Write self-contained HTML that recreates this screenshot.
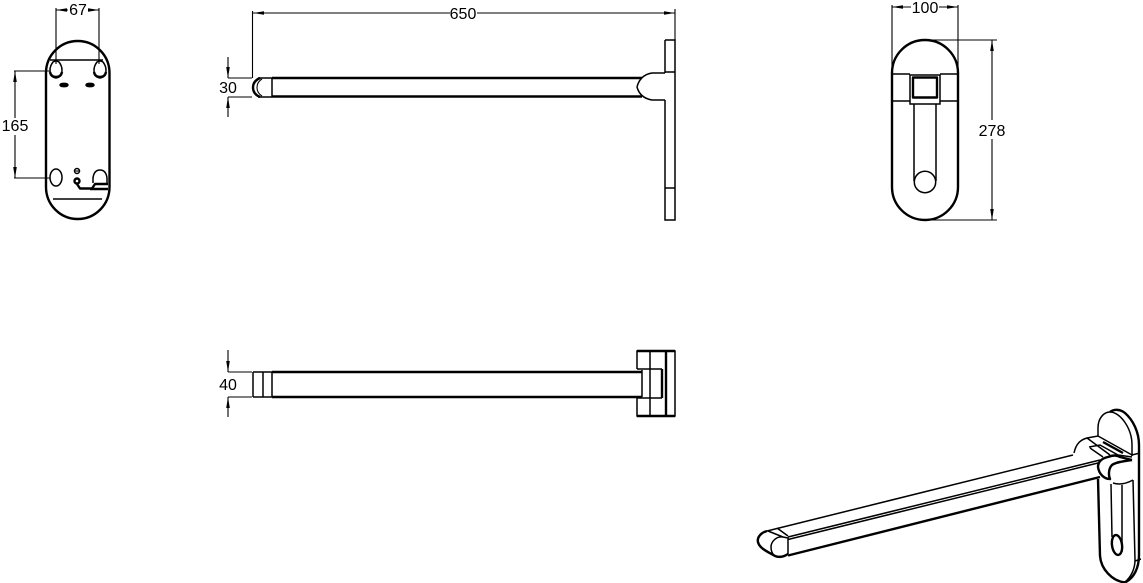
<!DOCTYPE html>
<html>
<head>
<meta charset="utf-8">
<style>
html,body{margin:0;padding:0;background:#fff;width:1143px;height:583px;overflow:hidden}
svg{display:block}
text{font-family:"Liberation Sans",sans-serif;font-size:16px;fill:#000;text-anchor:middle}
.m{fill:none;stroke:#000;stroke-width:1.5}
.t{fill:none;stroke:#000;stroke-width:2.4;stroke-linejoin:round}
.n{fill:none;stroke:#000;stroke-width:1.1}
.a{fill:#000;stroke:none}
</style>
</head>
<body>
<svg width="1143" height="583" viewBox="0 0 1143 583" xmlns="http://www.w3.org/2000/svg">
<!-- Left view -->
<rect class="t" x="46" y="41" width="63.500" height="178" rx="31.700" ry="32"/>
<path class="m" d="M50 60H103M53 199H102"/>
<path class="m" d="M53 62Q50 66 50 70Q50 77 56 78Q62 77 62 70Q62 66 59 62Q56 60 53 62Z"/>
<path class="m" d="M97 62Q94 66 94 70Q94 77 100 78Q106 77 106 70Q106 66 103 62Q100 60 97 62Z"/>
<path class="t" d="M50 72Q51 77 56 77Q61 77 62 72M94 72Q95 77 100 77Q105 77 106 72"/>
<ellipse class="t" cx="64" cy="85" rx="3.500" ry="1.200"/>
<ellipse class="t" cx="90" cy="85" rx="3.500" ry="1.200"/>
<ellipse class="m" cx="56" cy="177.500" rx="6" ry="8.500"/>
<path class="m" d="M93 183V178Q94 170 100 170Q106 170 107 178V184"/>
<ellipse class="m" cx="77" cy="171" rx="2.500" ry="2.500"/>
<path class="n" d="M74 171H80"/>
<circle class="t" cx="77" cy="181" r="2.500"/>
<path class="t" d="M77 184L80 188.500H92L95 184H108M90 189H108"/>
<path class="n" d="M56 8V64M99 8V64M14 71H50M14 178H50"/>
<path class="n" d="M68 10H56M88 10H99M15 71V118M15 135V178"/>
<path class="a" d="M56 10l11-1.800v3.600zM99 10l-11-1.800v3.600zM15 71l-1.800 11h3.600zM15 178l-1.800-11h3.600z"/>
<text x="78" y="15">67</text>
<text x="15" y="131">165</text>
<!-- Top view -->
<path class="n" d="M252.500 11V78M675 9V40M253 13H450M477 13H675"/>
<path class="a" d="M253 13l11-1.800v3.600zM675 13l-11-1.800v3.600z"/>
<text x="463" y="19">650</text>
<path class="t" d="M272 78H642M272 96.500H642"/>
<path class="m" d="M272 78V96.500M258 78H272M258 97H272"/>
<path class="t" d="M260 78Q253 81 253 87.500Q253 94 260 97"/>
<path class="n" d="M262 79Q257 82 257 87.500Q257 93 262 96"/>
<path class="m" d="M665 73H652Q640 75 637 87Q640 98 652 100H665"/>
<path class="m" d="M665 40H675V220H665V100M665 73V40M665 72H675M665 188H675"/>
<path class="n" d="M228 78H252M228 97H252"/>
<path class="n" d="M228 57V78M228 97V117"/>
<path class="a" d="M228 78l-1.800-11h3.600zM228 97l-1.800 11h3.600z"/>
<text x="228" y="93">30</text>
<!-- Right view -->
<path class="t" d="M892 73A33 33 0 0 1 958 73"/>
<path class="t" d="M892 73V187A33 33 0 0 0 958 187V73"/>
<path class="m" d="M892 74H910M940 74H958M892 101H910M940 101H958"/>
<rect class="m" x="910" y="75" width="30" height="29"/>
<rect class="t" x="913" y="77.500" width="24" height="20"/>
<path class="m" d="M914 104V181M936 104V181"/>
<circle class="m" cx="925" cy="182" r="10.700"/>
<path class="n" d="M892 5V73M958 5V73M925 40H997M925 220H997"/>
<path class="n" d="M892 7H911M939 7H958M992 40V120M992 139V220"/>
<path class="a" d="M892 7l11-1.800v3.600zM958 7l-11-1.800v3.600zM992 40l-1.800 11h3.600zM992 220l-1.800-11h3.600z"/>
<text x="925" y="13">100</text>
<text x="992" y="136">278</text>
<!-- Bottom view -->
<path class="t" d="M272 372H642M272 397H642"/>
<path class="m" d="M253 372H272M253 397H272M253 372V397M263 372V397M272 372V397"/>
<path class="m" d="M637 369V351H675V416H637V398M666 351V416M650 351V416M642 370V397M637 369H662M637 398H662"/>
<path class="t" d="M662 369V398M666 351V416M637 351H675M637 416H675"/>
<path class="n" d="M228 372H252M228 397H252M228 350V372M228 397V417"/>
<path class="a" d="M228 372l-1.800-11h3.600zM228 397l-1.800 11h3.600z"/>
<text x="228" y="390">40</text>
<!-- Isometric view: arm -->
<path class="m" d="M767 531L1073 455"/>
<path class="t" d="M788 555.500L1100 477"/>
<path class="m" d="M788 537L1100 460M788 539.500L1100 462.500"/>
<path class="t" d="M767 531C760 533 757 538 758 542C759 548 768 552 775 556C780 558 785 556 788 554"/>
<path class="m" d="M768 531L783 537L788 538V554M777 528L788 536M783 537C776 536 771 542 771 547C771 551 772 554 775 556"/>
<!-- Isometric view: plate -->
<path class="m" d="M1098 436V428C1098 418 1104 412 1110 412C1120 412 1132 428 1132 445V456"/>
<path class="t" d="M1110 412C1114 409 1120 409 1125 413C1133 420 1139 432 1139 445V555C1139 568 1134 578 1125 582.500"/>
<path class="t" d="M1098 479L1100 556C1101 569 1112 581 1125 582.500"/>
<path class="m" d="M1133 480L1135 560C1135 570 1130 578 1125 582M1135 561L1141 559"/>
<path class="m" d="M1113 483Q1122 486 1133 480"/>
<path class="m" d="M1111 484L1112 537M1122 485V552"/>
<ellipse class="t" cx="1117" cy="545" rx="5" ry="10" transform="rotate(-8 1117 545)"/>
<!-- Isometric view: boss -->
<path class="t" d="M1132 460C1125 461 1116 462 1112 465C1109 468 1108 474 1110 479C1104 479 1099 474 1098 467C1098 461 1103 458 1108 457C1113 455 1117 455 1120 457L1132 460"/>
<path class="m" d="M1074 453C1076 444 1080 440 1087 438L1098 436L1132 455L1140 453"/>
<path class="t" d="M1103 442L1123 453"/>
<path class="m" d="M1087 438L1110 455M1089 447L1100 445L1118 455M1090 448L1103 457M1118 455L1132 457"/>
</svg>
</body>
</html>
